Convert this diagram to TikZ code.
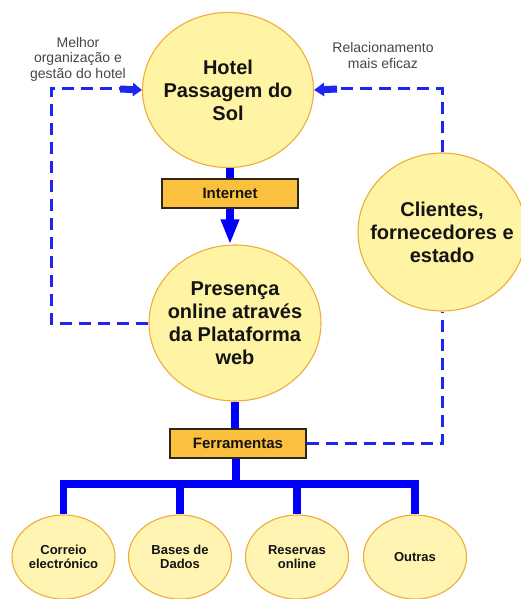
\documentclass[tikz,border=0pt]{standalone}
\usepackage{fontspec}
\setmainfont{Liberation Sans}
\usetikzlibrary{shapes.geometric,arrows.meta}

\definecolor{bubblefill}{RGB}{255,244,163}
\definecolor{toolfill}{RGB}{255,244,178}
\definecolor{bubbleline}{RGB}{238,172,62}
\definecolor{boxfill}{RGB}{250,192,62}
\definecolor{boxline}{RGB}{45,38,25}
\definecolor{linkblue}{RGB}{0,0,250}
\definecolor{dashblue}{RGB}{28,38,240}
\definecolor{notegray}{RGB}{70,70,70}
\definecolor{inkblack}{RGB}{20,20,20}

\tikzset{
  bubble/.style={ellipse, draw=bubbleline, line width=1.1pt, fill=bubblefill, inner sep=0pt},
  toolbubble/.style={bubble, fill=toolfill, minimum width=103pt, minimum height=84pt},
  bigtext/.style={font=\bfseries\fontsize{20}{23}\selectfont, text=inkblack, align=center},
  smalltext/.style={font=\bfseries\fontsize{13}{14.5}\selectfont, text=inkblack, align=center},
  tagbox/.style={rectangle, draw=boxline, line width=1.1pt, fill=boxfill,
    minimum width=136pt, minimum height=29pt, inner sep=0pt,
    font=\bfseries\fontsize{15}{17}\selectfont, text=inkblack},
  note/.style={font=\fontsize{14}{15.5}\selectfont, text=notegray, align=center},
  solidlink/.style={draw=linkblue, line width=7.5pt},
  dashlink/.style={draw=dashblue, line width=3pt, dash pattern=on 12pt off 7pt, line join=miter},
  stublink/.style={draw=dashblue, line width=7pt},
}

\begin{document}
\begin{tikzpicture}[x=1pt,y=-1pt]
\useasboundingbox (0,0) rectangle (521,599);

% central bubbles
\node[bubble, minimum width=171pt, minimum height=155pt,
      label={[bigtext]center:Hotel\\Passagem do\\Sol}] (hotel) at (228,90) {};
\node[bubble, minimum width=172pt, minimum height=156pt,
      label={[bigtext]center:Presença\\online através\\da Plataforma\\web}] (presenca) at (235,323) {};
\node[bubble, minimum width=168pt, minimum height=158pt,
      label={[bigtext]center:Clientes,\\fornecedores e\\estado}] (clientes) at (442,232) {};

% labelled boxes
\node[tagbox] (internet) at (230,193.5) {Internet};
\node[tagbox] (ferr) at (238,443.5) {Ferramentas};

% tool bubbles
\node[toolbubble, label={[smalltext]center:Correio\\electrónico}] (correio) at (63.5,557) {};
\node[toolbubble, label={[smalltext]center:Bases de\\Dados}] (bases) at (180,557) {};
\node[toolbubble, label={[smalltext]center:Reservas\\online}] (reservas) at (297,557) {};
\node[toolbubble, label={[smalltext]center:Outras}] (outras) at (415,557) {};

% side notes
\node[note] (notaesq) at (78,59) {Melhor\\organização e\\gestão do hotel};
\node[note] (notadir) at (383,55.5) {Relacionamento\\mais eficaz};

% solid flow
\draw[solidlink] (hotel.south -| internet.north) -- (internet.north);
\draw[solidlink, -{Triangle[length=25pt,width=17pt]}]
  (internet.south) -- (internet.south |- presenca.north);
\draw[solidlink] (presenca.south) -- (presenca.south |- ferr.north);

% tool tree
\coordinate (bus) at (236,484);
\draw[solidlink] (ferr.south -| bus) -- (bus);
\draw[solidlink, line cap=rect] (correio.north |- bus) -- (outras.north |- bus);
\draw[solidlink] (correio.north |- bus) -- (correio.north);
\draw[solidlink] (bases.north |- bus) -- (bases.north);
\draw[solidlink] (reservas.north |- bus) -- (reservas.north);
\draw[solidlink] (outras.north |- bus) -- (outras.north);

% feedback loops
\coordinate (lc) at (51,89);
\coordinate (hl) at (120,89);
\coordinate (hr) at (337,89);
\draw[dashlink] (presenca.west) -| (lc) -- (hl);
\draw[stublink, -{Triangle[length=9pt,width=13pt]}] (hl) -- (hotel.west);
\draw[dashlink] (ferr.east) -| (clientes.south);
\draw[dashlink] (clientes.north) |- (hr);
\draw[stublink, -{Triangle[length=10pt,width=13pt]}] (hr) -- (hotel.east);
\end{tikzpicture}
\end{document}
